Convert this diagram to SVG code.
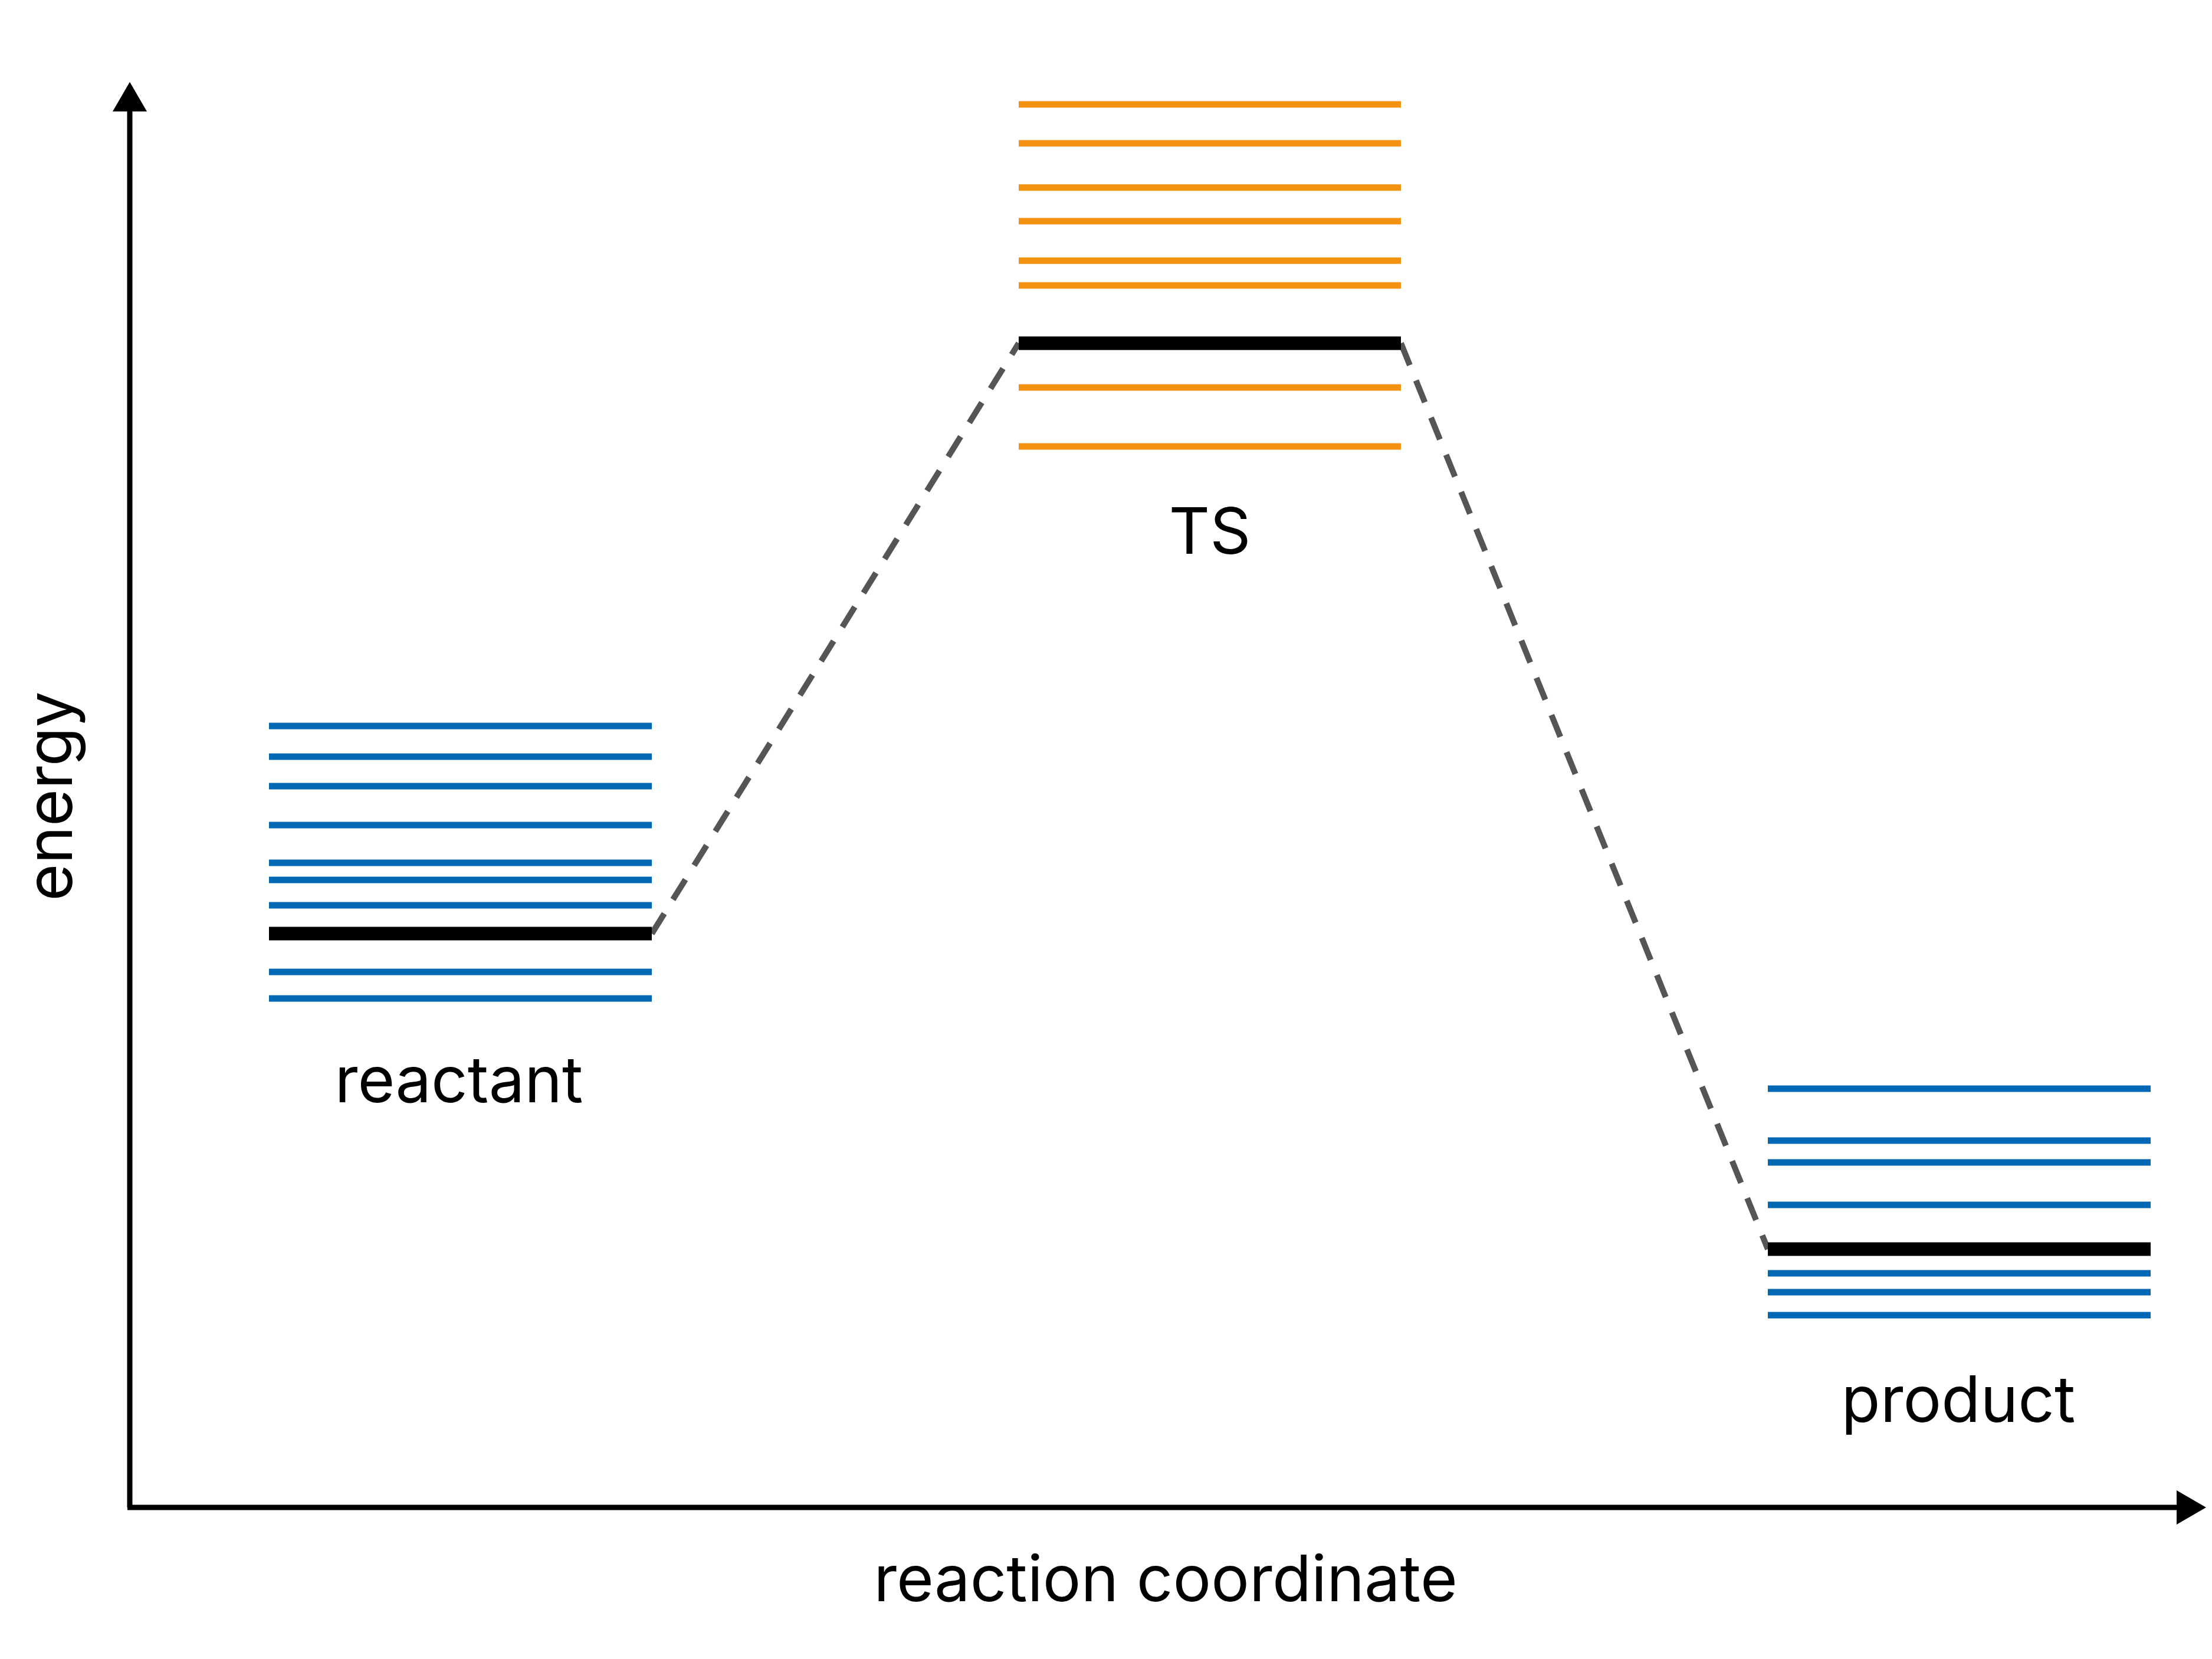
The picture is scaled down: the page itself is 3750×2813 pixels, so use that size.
<svg xmlns="http://www.w3.org/2000/svg" width="3750" height="2813" viewBox="0 0 3750 2813">
<style>
.b{stroke:#0068b5;stroke-width:11}
.o{stroke:#f39211;stroke-width:11}
.k{stroke:#000;stroke-width:23}
.t{font-family:Inter,"Noto Sans",sans-serif;font-size:108px;fill:#000}
.d{stroke:#555;stroke-width:10;stroke-dasharray:40 28;fill:none}
</style>
<rect width="3750" height="2813" fill="#fff"/>
<g id="axes">
<line x1="220" y1="2556" x2="220" y2="185" stroke="#000" stroke-width="9"/>
<polygon points="220,139 249,189 191,189" fill="#000"/>
<line x1="216" y1="2556" x2="3695" y2="2556" stroke="#000" stroke-width="9"/>
<polygon points="3740,2556 3690,2527 3690,2585" fill="#000"/>
<text class="t" transform="translate(122,1350) rotate(-90)" text-anchor="middle">energy</text>
<text class="t" x="1976" y="2715" text-anchor="middle">reaction coordinate</text>
</g>
<g id="connectors">
<line class="d" x1="1105" y1="1583" x2="1727" y2="582"/>
<line class="d" x1="2375" y1="582" x2="2997" y2="2118"/>
</g>
<g id="reactant">
<line class="b" x1="456" x2="1105" y1="1231" y2="1231"/>
<line class="b" x1="456" x2="1105" y1="1283" y2="1283"/>
<line class="b" x1="456" x2="1105" y1="1333" y2="1333"/>
<line class="b" x1="456" x2="1105" y1="1399" y2="1399"/>
<line class="b" x1="456" x2="1105" y1="1463" y2="1463"/>
<line class="b" x1="456" x2="1105" y1="1492" y2="1492"/>
<line class="b" x1="456" x2="1105" y1="1535" y2="1535"/>
<line class="k" x1="456" x2="1105" y1="1583" y2="1583"/>
<line class="b" x1="456" x2="1105" y1="1648" y2="1648"/>
<line class="b" x1="456" x2="1105" y1="1693" y2="1693"/>
<text class="t" x="778" y="1869" text-anchor="middle">reactant</text>
</g>
<g id="ts">
<line class="o" x1="1727" x2="2375" y1="177" y2="177"/>
<line class="o" x1="1727" x2="2375" y1="243" y2="243"/>
<line class="o" x1="1727" x2="2375" y1="318" y2="318"/>
<line class="o" x1="1727" x2="2375" y1="375" y2="375"/>
<line class="o" x1="1727" x2="2375" y1="442" y2="442"/>
<line class="o" x1="1727" x2="2375" y1="484" y2="484"/>
<line class="k" x1="1727" x2="2375" y1="582" y2="582"/>
<line class="o" x1="1727" x2="2375" y1="657" y2="657"/>
<line class="o" x1="1727" x2="2375" y1="757" y2="757"/>
<text class="t" x="2051" y="939" text-anchor="middle">TS</text>
</g>
<g id="product">
<line class="b" x1="2997" x2="3646" y1="1846" y2="1846"/>
<line class="b" x1="2997" x2="3646" y1="1934" y2="1934"/>
<line class="b" x1="2997" x2="3646" y1="1971" y2="1971"/>
<line class="b" x1="2997" x2="3646" y1="2043" y2="2043"/>
<line class="k" x1="2997" x2="3646" y1="2118" y2="2118"/>
<line class="b" x1="2997" x2="3646" y1="2159" y2="2159"/>
<line class="b" x1="2997" x2="3646" y1="2191" y2="2191"/>
<line class="b" x1="2997" x2="3646" y1="2230" y2="2230"/>
<text class="t" x="3320" y="2411" text-anchor="middle">product</text>
</g>
</svg>
